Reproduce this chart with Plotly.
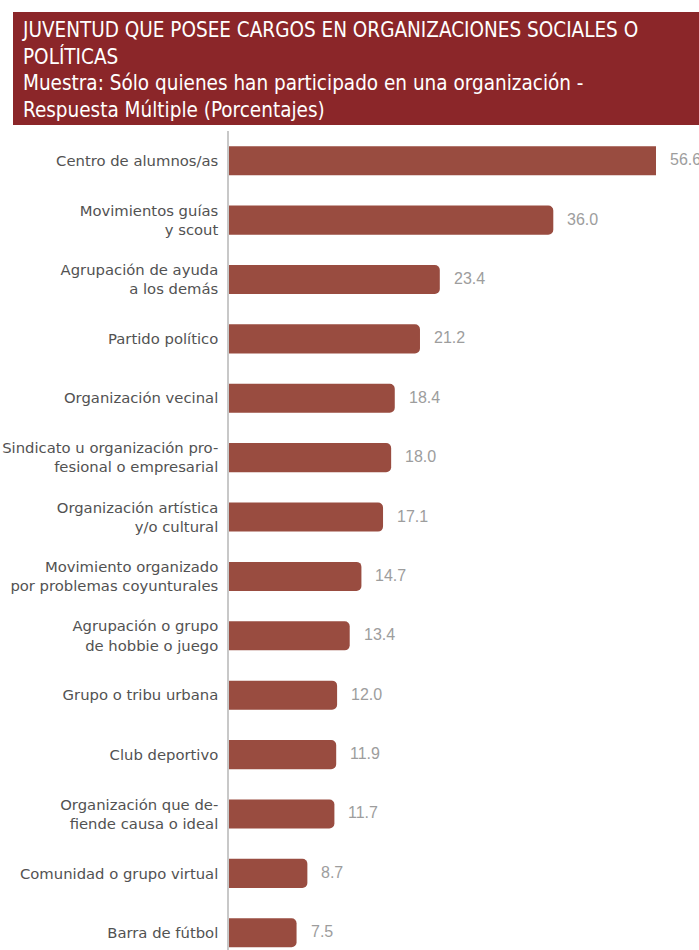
import plotly.graph_objects as go

# Organisations (top to bottom) and share of respondents holding a post, %
categories = [
    "Centro de alumnos/as",
    "Movimientos guías<br>y scout",
    "Agrupación de ayuda<br>a los demás",
    "Partido político",
    "Organización vecinal",
    "Sindicato u organización pro-<br>fesional o empresarial",
    "Organización artística<br>y/o cultural",
    "Movimiento organizado<br>por problemas coyunturales",
    "Agrupación o grupo<br>de hobbie o juego",
    "Grupo o tribu urbana",
    "Club deportivo",
    "Organización que de-<br>fiende causa o ideal",
    "Comunidad o grupo virtual",
    "Barra de fútbol",
]
values = [56.6, 36.0, 23.4, 21.2, 18.4, 18.0, 17.1, 14.7, 13.4, 12.0, 11.9, 11.7, 8.7, 7.5]
value_labels = [f"{v:.1f}" for v in values]

title_lines = [
    "JUVENTUD QUE POSEE CARGOS EN ORGANIZACIONES SOCIALES O",
    "POLÍTICAS",
    "Muestra: Sólo quienes han participado en una organización -",
    "Respuesta Múltiple (Porcentajes)",
]

W, H = 699, 950
PLOT_L, PLOT_R, PLOT_T, PLOT_B = 229, 656, 131, 950
X_MAX = 47.4

BAR_COLOR = "#994c40"
BANNER_COLOR = "#8b2629"
NARROW = "Liberation Sans Narrow, DejaVu Sans Condensed, sans-serif"


def px_x(px):
    return (px - PLOT_L) / (PLOT_R - PLOT_L)


def px_y(py):
    return (PLOT_B - py) / (PLOT_B - PLOT_T)


fig = go.Figure(
    go.Bar(
        x=values,
        y=categories,
        orientation="h",
        marker=dict(color=BAR_COLOR, cornerradius=5, line=dict(width=0)),
        hoverinfo="skip",
    )
)

# value labels just past the bar end (clamped to the plot edge)
for cat, v, lab in zip(categories, values, value_labels):
    fig.add_annotation(
        x=min(v, X_MAX), y=cat, text=lab, showarrow=False,
        xanchor="left", yanchor="middle", xshift=12, yshift=1,
        font=dict(family="Liberation Sans, sans-serif", size=16, color="#9d9d9d"),
    )

# title banner
fig.add_shape(
    type="rect", xref="paper", yref="paper",
    x0=px_x(13), x1=px_x(W + 2), y0=px_y(125), y1=px_y(12),
    fillcolor=BANNER_COLOR, line=dict(width=0), layer="above",
)
fig.add_annotation(
    xref="paper", yref="paper", x=px_x(20), y=px_y(16),
    xanchor="left", yanchor="top", align="left", showarrow=False,
    text="<br>".join(title_lines),
    font=dict(family=NARROW, size=20.5, color="white"),
)

fig.update_layout(
    width=W, height=H,
    margin=dict(l=PLOT_L, r=W - PLOT_R, t=PLOT_T, b=H - PLOT_B, pad=0),
    paper_bgcolor="white", plot_bgcolor="white",
    bargap=0.51, showlegend=False,
    xaxis=dict(range=[0, X_MAX], visible=False, fixedrange=True),
    yaxis=dict(
        range=[13.29, -0.5], showline=True, linecolor="#c8c8c8", linewidth=1.5,
        ticks="", showgrid=False, ticklabelstandoff=6,
        tickfont=dict(family="DejaVu Sans, sans-serif", size=14.8, color="#525252"),
        fixedrange=True,
    ),
)

fig.write_html("out.html")
